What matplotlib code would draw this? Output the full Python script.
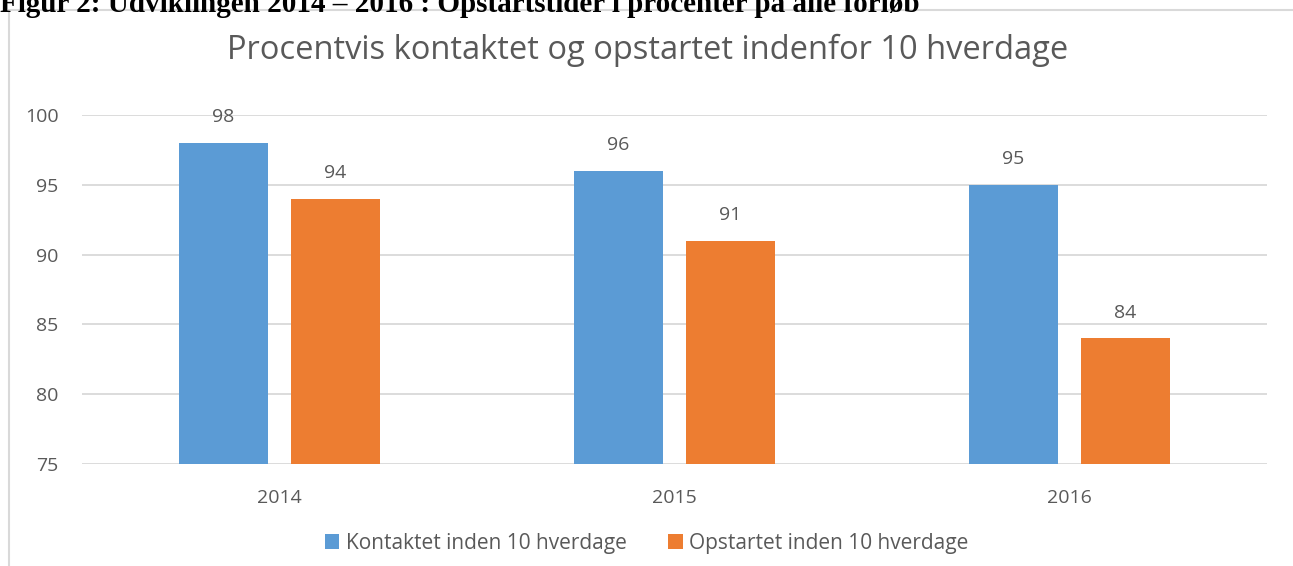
import matplotlib.pyplot as plt
from matplotlib.patches import Rectangle

years = ['2014', '2015', '2016']
kontaktet = [98, 96, 95]
opstartet = [94, 91, 84]
yticks = [75, 80, 85, 90, 95, 100]

blue = '#5b9bd5'
orange = '#ed7d31'
grey = '#595959'

plt.rcParams['font.family'] = ['Open Sans', 'DejaVu Sans']

fig = plt.figure(figsize=(12.93, 5.66), dpi=100)
ax = fig.add_axes([0.0634, 0.1802, 0.9165, 0.6166])

x = list(range(len(years)))
w = 0.225
off = 0.142
b1 = ax.bar([i - off for i in x], [v - 75 for v in kontaktet], w, bottom=75,
            color=blue, label='Kontaktet inden 10 hverdage', zorder=3)
b2 = ax.bar([i + off for i in x], [v - 75 for v in opstartet], w, bottom=75,
            color=orange, label='Opstartet inden 10 hverdage', zorder=3)

for i in x:
    ax.text(i - off, kontaktet[i] + 1.2, str(kontaktet[i]), ha='center', va='bottom',
            fontsize=14, color=grey, clip_on=False)
    ax.text(i + off, opstartet[i] + 1.2, str(opstartet[i]), ha='center', va='bottom',
            fontsize=14, color=grey, clip_on=False)

ax.set_xlim(-0.5, 2.5)
ax.set_ylim(75, 100)
ax.set_yticks(yticks)
ax.set_xticks(x)
ax.set_xticklabels(years)
ax.tick_params(length=0, labelsize=14, labelcolor=grey)
ax.tick_params(axis='y', pad=17)
ax.tick_params(axis='x', pad=18)
ax.grid(axis='y', color='#d9d9d9', linewidth=1.3, zorder=0)
for s in ax.spines.values():
    s.set_visible(False)

# title is centred on the whole chart box, not the plot area
fig.text(0.501, 1 - 50 / 566, 'Procentvis kontaktet og opstartet indenfor 10 hverdage',
         fontsize=23.5, color=grey, ha='center', va='center')

fig.legend(handles=[b1, b2], loc='center', bbox_to_anchor=(0.50, 0.040), ncol=2,
           frameon=False, fontsize=15, labelcolor=grey, handlelength=0.7,
           handleheight=0.7, handletextpad=0.3, columnspacing=2.0)

# chart frame (left and top edge visible)
fig.add_artist(Rectangle((9 / 1293, -0.1), 1.2, 1 - 10 / 566 + 0.1,
                         transform=fig.transFigure, fill=False,
                         edgecolor='#d9d9d9', linewidth=1.5))

# clipped document caption above the chart
fig.text(0.0, 1 - 12 / 566, 'Figur 2: Udviklingen 2014 \u2013 2016 : Opstartstider i procenter p\u00e5 alle forl\u00f8b',
         fontsize=21, fontweight='bold', family='Liberation Serif', va='baseline')

fig.savefig('out.png', dpi=100)
